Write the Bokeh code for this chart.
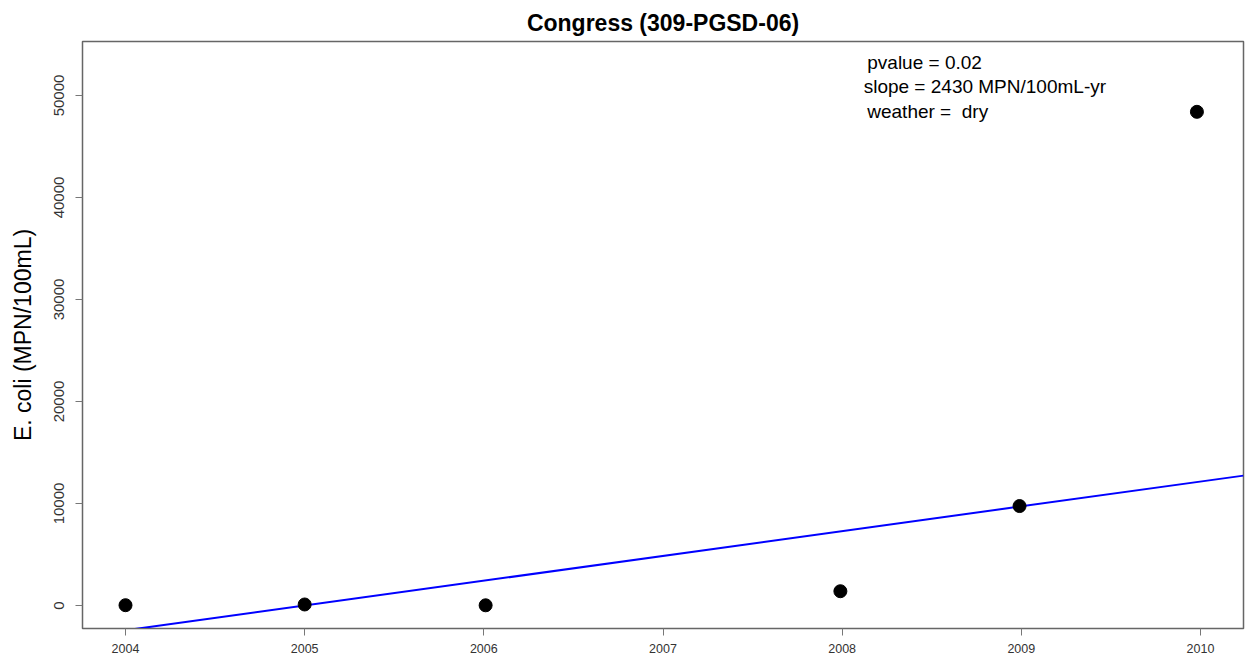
from bokeh.plotting import figure
from bokeh.models import FixedTicker, Range1d, Label
from bokeh.embed import file_html
from bokeh.resources import INLINE

# Data
years = [2004.0, 2005.0, 2006.01, 2007.99, 2008.99, 2009.98]
ecoli = [30, 100, 20, 1400, 9750, 48400]
slope = 2430.0          # MPN/100mL-yr
intercept_at_2005 = 0.0
x_ticks = [2004, 2005, 2006, 2007, 2008, 2009, 2010]
y_ticks = [0, 10000, 20000, 30000, 40000, 50000]
annot_lines = ["pvalue = 0.02", "slope = 2430 MPN/100mL-yr", "weather = \u00a0dry"]

x0, x1 = 2003.76, 2010.24
y0, y1 = -2255, 55294

p = figure(width=1248, height=663, output_backend="svg", toolbar_location=None,
           x_range=Range1d(x0, x1), y_range=Range1d(y0, y1),
           frame_width=1161, frame_height=587,
           min_border_left=82, min_border_right=5, min_border_top=41, min_border_bottom=35,
           title="Congress (309-PGSD-06)")
p.title.align = "center"
p.title.text_font = "Liberation Sans"
p.title.text_font_size = "23px"
p.title.text_font_style = "bold"
p.title.text_color = "black"
p.title.offset = 0
p.title.standoff = 12

p.xgrid.visible = False
p.ygrid.visible = False
p.outline_line_color = "#666666"
p.outline_line_width = 1.5
p.background_fill_color = "white"
p.border_fill_color = "white"

p.xaxis.ticker = FixedTicker(ticks=x_ticks)
p.yaxis.ticker = FixedTicker(ticks=y_ticks)
p.xaxis.minor_tick_line_color = None
p.yaxis.minor_tick_line_color = None
for ax in (p.xaxis, p.yaxis):
    ax.major_tick_in = 0
    ax.major_tick_out = 7
    ax.major_tick_line_color = "#777777"
    ax.axis_line_color = "#666666"
    ax.major_label_text_font = "Liberation Sans"
    ax.major_label_text_color = "#333333"
p.xaxis.major_label_text_font_size = "12.5px"
p.xaxis.major_label_standoff = 8
p.yaxis.major_label_text_font_size = "15px"
p.yaxis.major_label_orientation = "vertical"
p.yaxis.major_label_standoff = 11
p.yaxis.axis_label = "E. coli (MPN/100mL)"
p.yaxis.axis_label_text_font = "Liberation Sans"
p.yaxis.axis_label_text_font_size = "23px"
p.yaxis.axis_label_text_font_style = "normal"
p.yaxis.axis_label_text_color = "black"
p.yaxis.axis_label_standoff = 16

# regression line across the full x range
lx = [x0, x1]
ly = [intercept_at_2005 + slope * (x - 2005) for x in lx]
p.line(lx, ly, line_color="blue", line_width=2)

p.scatter(years, ecoli, size=13, fill_color="black", line_color="black")

ys = [53235, 50882, 48431]
xs = [2008.14, 2008.12, 2008.14]
for t, xx, yy in zip(annot_lines, xs, ys):
    p.add_layout(Label(x=xx, y=yy, text=t, text_font="Liberation Sans",
                       text_font_size="19px", text_baseline="middle",
                       text_align="left", text_color="black"))

open("out.html", "w").write(file_html(p, INLINE))
